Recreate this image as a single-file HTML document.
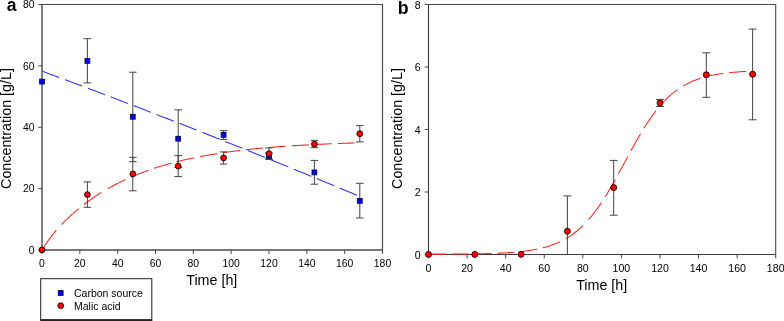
<!DOCTYPE html>
<html lang="en"><head><meta charset="utf-8"><title>Figure</title>
<style>html,body{margin:0;padding:0;background:#fff}svg{display:block;will-change:transform}</style></head>
<body>
<svg width="784" height="321" viewBox="0 0 784 321" font-family="'Liberation Sans', Arial, sans-serif" fill="#000">
<rect width="784" height="321" fill="#fff"/>
<path d="M42.00 4.50 V250.00 H382.50" fill="none" stroke="#787878" stroke-width="1.9"/>
<path d="M38.40 4.50 H382.50 V253.80" fill="none" stroke="#4a4a4a" stroke-width="1.2"/>
<path d="M42.00 250.00 v3.9 M79.83 250.00 v3.9 M117.67 250.00 v3.9 M155.50 250.00 v3.9 M193.33 250.00 v3.9 M231.17 250.00 v3.9 M269.00 250.00 v3.9 M306.83 250.00 v3.9 M344.67 250.00 v3.9 M42.00 250.00 h-3.8 M42.00 188.62 h-3.8 M42.00 127.25 h-3.8 M42.00 65.88 h-3.8 " fill="none" stroke="#444" stroke-width="1"/>
<g font-size="10.4" text-anchor="middle">
<text x="42.0" y="267.0">0</text>
<text x="79.8" y="267.0">20</text>
<text x="117.7" y="267.0">40</text>
<text x="155.5" y="267.0">60</text>
<text x="193.3" y="267.0">80</text>
<text x="231.2" y="267.0">100</text>
<text x="269.0" y="267.0">120</text>
<text x="306.8" y="267.0">140</text>
<text x="344.7" y="267.0">160</text>
<text x="382.5" y="267.0">180</text>
</g>
<g font-size="10.4" text-anchor="end">
<text x="34.6" y="253.7">0</text>
<text x="34.6" y="192.3">20</text>
<text x="34.6" y="131.0">40</text>
<text x="34.6" y="69.6">60</text>
<text x="34.6" y="8.2">80</text>
</g>
<text font-size="14.3" text-anchor="middle" x="211.8" y="285.0">Time [h]</text>
<text font-size="14.3" text-anchor="middle" transform="translate(10.6 128.5) rotate(-90)">Concentration [g/L]</text>
<path d="M428.50 4.50 V254.50 H775.70" fill="none" stroke="#3a3a3a" stroke-width="1.1"/>
<path d="M424.90 4.50 H775.70 V258.30" fill="none" stroke="#4a4a4a" stroke-width="1.1"/>
<path d="M428.50 254.50 v3.9 M467.08 254.50 v3.9 M505.66 254.50 v3.9 M544.23 254.50 v3.9 M582.81 254.50 v3.9 M621.39 254.50 v3.9 M659.97 254.50 v3.9 M698.54 254.50 v3.9 M737.12 254.50 v3.9 M428.50 254.50 h-3.8 M428.50 192.00 h-3.8 M428.50 129.50 h-3.8 M428.50 67.00 h-3.8 " fill="none" stroke="#444" stroke-width="1"/>
<g font-size="10.6" text-anchor="middle">
<text x="428.5" y="271.7">0</text>
<text x="467.1" y="271.7">20</text>
<text x="505.7" y="271.7">40</text>
<text x="544.2" y="271.7">60</text>
<text x="582.8" y="271.7">80</text>
<text x="621.4" y="271.7">100</text>
<text x="660.0" y="271.7">120</text>
<text x="698.5" y="271.7">140</text>
<text x="737.1" y="271.7">160</text>
<text x="775.7" y="271.7">180</text>
</g>
<g font-size="10.6" text-anchor="end">
<text x="420.6" y="258.9">0</text>
<text x="420.6" y="196.4">2</text>
<text x="420.6" y="133.9">4</text>
<text x="420.6" y="71.4">6</text>
<text x="420.6" y="8.9">8</text>
</g>
<text font-size="14.3" text-anchor="middle" x="601.7" y="289.8">Time [h]</text>
<text font-size="14.3" text-anchor="middle" transform="translate(401.8 128.5) rotate(-90)">Concentration [g/L]</text>
<path d="M42.0 71.1 L42.6 71.3 L43.3 71.6 L43.9 71.8 L44.5 72.0 L45.2 72.3 L45.8 72.5 L46.5 72.7 L47.1 73.0 L47.7 73.2 L48.4 73.5 L49.0 73.7 L49.6 73.9 L50.3 74.2 L50.9 74.4 L51.5 74.6 L52.2 74.9 L52.8 75.1 L53.4 75.3 L54.1 75.6 L54.7 75.8 L55.4 76.0 L56.0 76.3 L56.6 76.5 L57.3 76.8 L57.9 77.0 L58.5 77.2 L59.2 77.5 L59.2 77.5 M65.0 79.6 L65.6 79.9 L66.2 80.1 L66.9 80.3 L67.5 80.6 L68.1 80.8 L68.8 81.1 L69.4 81.3 L70.1 81.5 L70.7 81.8 L71.3 82.0 L72.0 82.2 L72.6 82.5 L73.2 82.7 L73.9 83.0 L74.5 83.2 L75.1 83.4 L75.8 83.7 L76.4 83.9 L77.0 84.1 L77.7 84.4 L78.3 84.6 L79.0 84.9 L79.6 85.1 L80.2 85.3 L80.9 85.6 L81.5 85.8 L82.1 86.1 M87.9 88.2 L88.5 88.4 L89.1 88.7 L89.8 88.9 L90.4 89.2 L91.0 89.4 L91.7 89.6 L92.3 89.9 L92.9 90.1 L93.6 90.4 L94.2 90.6 L94.8 90.8 L95.5 91.1 L96.1 91.3 L96.8 91.6 L97.4 91.8 L98.0 92.0 L98.7 92.3 L99.3 92.5 L99.9 92.8 L100.6 93.0 L101.2 93.3 L101.8 93.5 L102.5 93.7 L103.1 94.0 L103.7 94.2 L104.4 94.5 L105.0 94.7 M110.7 96.9 L111.4 97.1 L112.0 97.4 L112.6 97.6 L113.3 97.8 L113.9 98.1 L114.6 98.3 L115.2 98.6 L115.8 98.8 L116.5 99.0 L117.1 99.3 L117.7 99.5 L118.4 99.8 L119.0 100.0 L119.6 100.3 L120.3 100.5 L120.9 100.7 L121.5 101.0 L122.2 101.2 L122.8 101.5 L123.5 101.7 L124.1 102.0 L124.7 102.2 L125.4 102.4 L126.0 102.7 L126.6 102.9 L127.3 103.2 L127.9 103.4 M133.6 105.6 L134.3 105.9 L134.9 106.1 L135.5 106.3 L136.2 106.6 L136.8 106.8 L137.4 107.1 L138.1 107.3 L138.7 107.6 L139.4 107.8 L140.0 108.1 L140.6 108.3 L141.3 108.5 L141.9 108.8 L142.5 109.0 L143.2 109.3 L143.8 109.5 L144.4 109.8 L145.1 110.0 L145.7 110.3 L146.3 110.5 L147.0 110.8 L147.6 111.0 L148.3 111.2 L148.9 111.5 L149.5 111.7 L150.2 112.0 L150.8 112.2 L150.9 112.3 M156.5 114.4 L157.2 114.7 L157.8 114.9 L158.4 115.2 L159.1 115.4 L159.7 115.7 L160.3 115.9 L161.0 116.2 L161.6 116.4 L162.2 116.7 L162.9 116.9 L163.5 117.2 L164.1 117.4 L164.8 117.6 L165.4 117.9 L166.1 118.1 L166.7 118.4 L167.3 118.6 L168.0 118.9 L168.6 119.1 L169.2 119.4 L169.9 119.6 L170.5 119.9 L171.1 120.1 L171.8 120.4 L172.4 120.6 L173.0 120.9 L173.7 121.1 L173.8 121.1 M179.4 123.3 L180.0 123.6 L180.7 123.8 L181.3 124.1 L181.9 124.3 L182.6 124.6 L183.2 124.8 L183.9 125.1 L184.5 125.3 L185.1 125.6 L185.8 125.8 L186.4 126.1 L187.0 126.3 L187.7 126.6 L188.3 126.8 L188.9 127.1 L189.6 127.3 L190.2 127.6 L190.8 127.8 L191.5 128.1 L192.1 128.3 L192.8 128.6 L193.4 128.8 L194.0 129.1 L194.7 129.3 L195.3 129.6 L195.9 129.8 L196.6 130.1 L196.6 130.1 M202.4 132.4 L203.0 132.6 L203.6 132.9 L204.3 133.1 L204.9 133.4 L205.5 133.6 L206.2 133.9 L206.8 134.1 L207.5 134.4 L208.1 134.6 L208.7 134.9 L209.4 135.1 L210.0 135.4 L210.6 135.6 L211.3 135.9 L211.9 136.1 L212.5 136.4 L213.2 136.6 L213.8 136.9 L214.4 137.1 L215.1 137.4 L215.7 137.7 L216.4 137.9 L217.0 138.2 L217.6 138.4 L218.3 138.7 L218.9 138.9 L219.5 139.2 M225.3 141.4 L225.9 141.7 L226.5 141.9 L227.2 142.2 L227.8 142.5 L228.4 142.7 L229.1 143.0 L229.7 143.2 L230.3 143.5 L231.0 143.7 L231.6 144.0 L232.3 144.2 L232.9 144.5 L233.5 144.7 L234.2 145.0 L234.8 145.2 L235.4 145.5 L236.1 145.8 L236.7 146.0 L237.3 146.3 L238.0 146.5 L238.6 146.8 L239.2 147.0 L239.9 147.3 L240.5 147.5 L241.2 147.8 L241.8 148.0 L242.4 148.3 M248.1 150.6 L248.8 150.9 L249.4 151.1 L250.1 151.4 L250.7 151.6 L251.3 151.9 L252.0 152.1 L252.6 152.4 L253.2 152.6 L253.9 152.9 L254.5 153.2 L255.1 153.4 L255.8 153.7 L256.4 153.9 L257.0 154.2 L257.7 154.4 L258.3 154.7 L259.0 154.9 L259.6 155.2 L260.2 155.5 L260.9 155.7 L261.5 156.0 L262.1 156.2 L262.8 156.5 L263.4 156.7 L264.0 157.0 L264.7 157.3 L265.3 157.5 M271.0 159.8 L271.7 160.1 L272.3 160.4 L272.9 160.6 L273.6 160.9 L274.2 161.1 L274.8 161.4 L275.5 161.6 L276.1 161.9 L276.8 162.2 L277.4 162.4 L278.0 162.7 L278.7 162.9 L279.3 163.2 L279.9 163.4 L280.6 163.7 L281.2 164.0 L281.8 164.2 L282.5 164.5 L283.1 164.7 L283.7 165.0 L284.4 165.3 L285.0 165.5 L285.7 165.8 L286.3 166.0 L286.9 166.3 L287.6 166.6 L288.2 166.8 L288.3 166.8 M293.9 169.2 L294.6 169.4 L295.2 169.7 L295.8 169.9 L296.5 170.2 L297.1 170.5 L297.7 170.7 L298.4 171.0 L299.0 171.2 L299.6 171.5 L300.3 171.8 L300.9 172.0 L301.5 172.3 L302.2 172.5 L302.8 172.8 L303.5 173.1 L304.1 173.3 L304.7 173.6 L305.4 173.8 L306.0 174.1 L306.6 174.4 L307.3 174.6 L307.9 174.9 L308.5 175.2 L309.2 175.4 L309.8 175.7 L310.4 175.9 L311.1 176.2 L311.2 176.2 M316.8 178.6 L317.4 178.8 L318.1 179.1 L318.7 179.3 L319.3 179.6 L320.0 179.9 L320.6 180.1 L321.3 180.4 L321.9 180.7 L322.5 180.9 L323.2 181.2 L323.8 181.4 L324.4 181.7 L325.1 182.0 L325.7 182.2 L326.3 182.5 L327.0 182.8 L327.6 183.0 L328.3 183.3 L328.9 183.5 L329.5 183.8 L330.2 184.1 L330.8 184.3 L331.4 184.6 L332.1 184.9 L332.7 185.1 L333.3 185.4 L334.0 185.7 L334.1 185.7 M339.8 188.1 L340.4 188.3 L341.0 188.6 L341.7 188.9 L342.3 189.1 L343.0 189.4 L343.6 189.7 L344.2 189.9 L344.9 190.2 L345.5 190.5 L346.1 190.7 L346.8 191.0 L347.4 191.2 L348.0 191.5 L348.7 191.8 L349.3 192.0 L349.9 192.3 L350.6 192.6 L351.2 192.8 L351.9 193.1 L352.5 193.4 L353.1 193.6 L353.8 193.9 L354.4 194.2 L355.0 194.4 L355.7 194.7 L356.3 195.0 L356.9 195.2" fill="none" stroke="#2a2aff" stroke-width="1.05"/>
<path d="M42.0 250.0 L42.6 249.0 L43.3 247.9 L43.9 246.9 L44.5 245.9 L45.2 245.0 L45.8 244.0 L46.5 243.1 L47.1 242.2 L47.7 241.3 L48.4 240.4 L49.0 239.5 L49.6 238.6 L50.3 237.8 L50.9 237.0 L51.5 236.1 L52.2 235.3 L52.8 234.5 L53.4 233.7 L54.1 233.0 L54.7 232.2 L55.4 231.4 L56.0 230.7 L56.2 230.4 M61.5 224.5 L62.2 223.9 L62.8 223.2 L63.5 222.5 L64.1 221.9 L64.7 221.3 L65.4 220.6 L66.0 220.0 L66.6 219.4 L67.3 218.8 L67.9 218.2 L68.5 217.6 L69.2 217.0 L69.8 216.4 L70.5 215.8 L71.1 215.2 L71.7 214.6 L72.4 214.1 L73.0 213.5 L73.6 212.9 L74.3 212.4 L74.9 211.8 L75.5 211.3 L76.2 210.7 L76.8 210.2 L77.4 209.7 L78.1 209.2 L78.6 208.7 M84.0 204.5 L84.6 204.0 L85.2 203.5 L85.9 203.0 L86.5 202.6 L87.1 202.1 L87.8 201.6 L88.4 201.2 L89.0 200.7 L89.7 200.3 L90.3 199.8 L91.0 199.4 L91.6 198.9 L92.2 198.5 L92.9 198.0 L93.5 197.6 L94.1 197.2 L94.8 196.7 L95.4 196.3 L96.0 195.9 L96.7 195.5 L97.3 195.1 L97.9 194.7 L98.6 194.2 L99.2 193.8 L99.9 193.4 L100.5 193.0 L101.1 192.6 L101.4 192.5 M107.8 188.7 L108.4 188.3 L109.1 187.9 L109.7 187.6 L110.3 187.2 L111.0 186.9 L111.6 186.5 L112.3 186.2 L112.9 185.8 L113.5 185.5 L114.2 185.2 L114.8 184.8 L115.4 184.5 L116.1 184.2 L116.7 183.8 L117.3 183.5 L118.0 183.2 L118.6 182.9 L119.2 182.6 L119.9 182.2 L120.5 181.9 L121.2 181.6 L121.8 181.3 L122.4 181.0 L123.1 180.7 L123.7 180.4 L124.3 180.1 L125.0 179.8 L125.4 179.6 M131.0 177.1 L131.6 176.8 L132.3 176.5 L132.9 176.3 L133.5 176.0 L134.2 175.7 L134.8 175.4 L135.5 175.2 L136.1 174.9 L136.7 174.7 L137.4 174.4 L138.0 174.2 L138.6 173.9 L139.3 173.6 L139.9 173.4 L140.5 173.2 L141.2 172.9 L141.8 172.7 L142.4 172.4 L143.1 172.2 L143.7 171.9 L144.4 171.7 L145.0 171.5 L145.6 171.2 L146.3 171.0 L146.9 170.8 L147.5 170.5 L148.2 170.3 L148.6 170.2 M154.0 168.3 L154.6 168.1 L155.2 167.9 L155.9 167.7 L156.5 167.5 L157.2 167.3 L157.8 167.1 L158.4 166.9 L159.1 166.7 L159.7 166.5 L160.3 166.3 L161.0 166.1 L161.6 165.9 L162.2 165.7 L162.9 165.5 L163.5 165.3 L164.1 165.2 L164.8 165.0 L165.4 164.8 L166.1 164.6 L166.7 164.4 L167.3 164.2 L168.0 164.1 L168.6 163.9 L169.2 163.7 L169.9 163.5 L170.5 163.4 L171.1 163.2 L171.3 163.1 M176.2 161.9 L176.9 161.7 L177.5 161.5 L178.1 161.4 L178.8 161.2 L179.4 161.1 L180.0 160.9 L180.7 160.8 L181.3 160.6 L181.9 160.4 L182.6 160.3 L183.2 160.1 L183.9 160.0 L184.5 159.9 L185.1 159.7 L185.8 159.6 L186.4 159.4 L187.0 159.3 L187.7 159.1 L188.3 159.0 L188.9 158.9 L189.6 158.7 L190.2 158.6 L190.8 158.4 L191.5 158.3 L192.1 158.2 L192.8 158.0 L193.4 157.9 L194.0 157.8 L194.3 157.7 M200.1 156.6 L200.8 156.4 L201.4 156.3 L202.1 156.2 L202.7 156.1 L203.3 156.0 L204.0 155.8 L204.6 155.7 L205.2 155.6 L205.9 155.5 L206.5 155.4 L207.1 155.3 L207.8 155.2 L208.4 155.0 L209.0 154.9 L209.7 154.8 L210.3 154.7 L211.0 154.6 L211.6 154.5 L212.2 154.4 L212.9 154.3 L213.5 154.2 L214.1 154.1 L214.8 154.0 L215.4 153.9 L216.0 153.8 L216.7 153.7 L217.3 153.6 L217.5 153.5 M222.7 152.7 L223.4 152.7 L224.0 152.6 L224.6 152.5 L225.3 152.4 L225.9 152.3 L226.5 152.2 L227.2 152.1 L227.8 152.0 L228.4 151.9 L229.1 151.8 L229.7 151.8 L230.3 151.7 L231.0 151.6 L231.6 151.5 L232.3 151.4 L232.9 151.3 L233.5 151.3 L234.2 151.2 L234.8 151.1 L235.4 151.0 L236.1 150.9 L236.7 150.9 L237.3 150.8 L238.0 150.7 L238.6 150.6 L239.2 150.5 L239.9 150.5 L240.3 150.4 M245.8 149.8 L246.4 149.7 L247.0 149.6 L247.7 149.6 L248.3 149.5 L248.9 149.4 L249.6 149.4 L250.2 149.3 L250.8 149.2 L251.5 149.2 L252.1 149.1 L252.8 149.0 L253.4 149.0 L254.0 148.9 L254.7 148.8 L255.3 148.8 L255.9 148.7 L256.6 148.6 L257.2 148.6 L257.8 148.5 L258.5 148.5 L259.1 148.4 L259.7 148.3 L260.4 148.3 L261.0 148.2 L261.7 148.2 L262.3 148.1 L262.8 148.1 M268.3 147.6 L269.0 147.5 L269.6 147.5 L270.2 147.4 L270.9 147.4 L271.5 147.3 L272.1 147.2 L272.8 147.2 L273.4 147.1 L274.1 147.1 L274.7 147.0 L275.3 147.0 L276.0 146.9 L276.6 146.9 L277.2 146.8 L277.9 146.8 L278.5 146.7 L279.1 146.7 L279.8 146.6 L280.4 146.6 L281.0 146.6 L281.7 146.5 L282.3 146.5 L283.0 146.4 L283.6 146.4 L284.2 146.3 L284.9 146.3 L285.5 146.2 L285.6 146.2 M291.8 145.8 L292.4 145.8 L293.0 145.7 L293.7 145.7 L294.3 145.6 L295.0 145.6 L295.6 145.6 L296.2 145.5 L296.9 145.5 L297.5 145.5 L298.1 145.4 L298.8 145.4 L299.4 145.3 L300.0 145.3 L300.7 145.3 L301.3 145.2 L301.9 145.2 L302.6 145.2 L303.2 145.1 L303.9 145.1 L304.5 145.0 L305.1 145.0 L305.8 145.0 L306.4 144.9 L307.0 144.9 L307.7 144.9 L308.3 144.8 L308.9 144.8 M314.5 144.5 L315.1 144.5 L315.8 144.5 L316.4 144.4 L317.0 144.4 L317.7 144.4 L318.3 144.3 L319.0 144.3 L319.6 144.3 L320.2 144.2 L320.9 144.2 L321.5 144.2 L322.1 144.2 L322.8 144.1 L323.4 144.1 L324.0 144.1 L324.7 144.0 L325.3 144.0 L325.9 144.0 L326.6 144.0 L327.2 143.9 L327.9 143.9 L328.5 143.9 L329.1 143.8 L329.8 143.8 L330.4 143.8 L331.0 143.8 L331.7 143.7 M338.0 143.5 L338.7 143.5 L339.3 143.4 L339.9 143.4 L340.6 143.4 L341.2 143.4 L341.8 143.4 L342.5 143.3 L343.1 143.3 L343.7 143.3 L344.4 143.3 L345.0 143.2 L345.7 143.2 L346.3 143.2 L346.9 143.2 L347.6 143.2 L348.2 143.1 L348.8 143.1 L349.5 143.1 L350.1 143.1 L350.7 143.1 L351.4 143.0 L352.0 143.0 L352.6 143.0 L353.3 143.0 L353.9 142.9 L354.6 142.9" fill="none" stroke="#ff2020" stroke-width="1.05"/>
<path d="M428.5 254.1 L429.1 254.1 L429.8 254.1 L430.4 254.1 L431.1 254.1 L431.7 254.1 L432.4 254.1 L433.0 254.1 L433.7 254.1 L434.3 254.1 L435.0 254.1 L435.6 254.1 L436.3 254.1 L436.9 254.1 L437.6 254.1 L438.2 254.1 L438.9 254.1 L439.5 254.1 L440.2 254.1 L440.8 254.1 L441.5 254.1 L442.1 254.1 L442.8 254.1 L443.4 254.1 L444.1 254.1 L444.7 254.1 L445.4 254.1 L445.8 254.1 M451.4 254.0 L452.1 254.0 L452.7 254.0 L453.4 254.0 L454.0 254.0 L454.7 254.0 L455.3 254.0 L456.0 254.0 L456.6 254.0 L457.3 254.0 L457.9 254.0 L458.6 254.0 L459.2 254.0 L459.9 254.0 L460.5 254.0 L461.2 254.0 L461.8 254.0 L462.5 254.0 L463.1 254.0 L463.7 254.0 L464.4 254.0 L465.0 254.0 L465.7 254.0 L466.3 253.9 L467.0 253.9 L467.6 253.9 L468.3 253.9 L468.6 253.9 M474.4 253.8 L475.0 253.8 L475.7 253.8 L476.3 253.8 L477.0 253.8 L477.6 253.8 L478.3 253.8 L478.9 253.8 L479.6 253.8 L480.2 253.7 L480.8 253.7 L481.5 253.7 L482.1 253.7 L482.8 253.7 L483.4 253.7 L484.1 253.7 L484.7 253.7 L485.4 253.6 L486.0 253.6 L486.7 253.6 L487.3 253.6 L488.0 253.6 L488.6 253.6 L489.3 253.5 L489.9 253.5 L490.6 253.5 L491.2 253.5 L491.5 253.5 M497.2 253.3 L497.9 253.2 L498.5 253.2 L499.2 253.2 L499.8 253.1 L500.5 253.1 L501.1 253.1 L501.8 253.0 L502.4 253.0 L503.1 253.0 L503.7 252.9 L504.3 252.9 L505.0 252.9 L505.6 252.8 L506.3 252.8 L506.9 252.8 L507.6 252.7 L508.2 252.7 L508.9 252.6 L509.5 252.6 L510.2 252.5 L510.8 252.5 L511.5 252.5 L512.1 252.4 L512.8 252.4 L513.4 252.3 L514.1 252.3 L514.5 252.2 M520.1 251.7 L520.8 251.6 L521.4 251.5 L522.1 251.5 L522.7 251.4 L523.4 251.3 L524.0 251.2 L524.7 251.2 L525.3 251.1 L526.0 251.0 L526.6 250.9 L527.3 250.8 L527.9 250.7 L528.6 250.6 L529.2 250.5 L529.9 250.4 L530.5 250.3 L531.2 250.2 L531.8 250.1 L532.5 250.0 L533.1 249.9 L533.8 249.8 L534.4 249.7 L535.1 249.5 L535.7 249.4 L536.4 249.3 L537.0 249.2 L537.3 249.1 M543.0 247.8 L543.6 247.6 L544.3 247.5 L544.9 247.3 L545.6 247.1 L546.2 246.9 L546.9 246.7 L547.5 246.5 L548.2 246.3 L548.8 246.1 L549.5 245.9 L550.1 245.7 L550.8 245.5 L551.4 245.3 L552.1 245.0 L552.7 244.8 L553.4 244.6 L554.0 244.3 L554.7 244.1 L555.3 243.8 L556.0 243.5 L556.6 243.3 L557.3 243.0 L557.9 242.7 L558.6 242.4 L559.2 242.1 L559.9 241.8 L560.3 241.6 M565.9 238.6 L566.6 238.3 L567.2 237.9 L567.9 237.5 L568.5 237.1 L569.2 236.7 L569.8 236.2 L570.5 235.8 L571.1 235.4 L571.8 234.9 L572.4 234.5 L573.1 234.0 L573.7 233.5 L574.4 233.0 L575.0 232.5 L575.7 232.0 L576.3 231.5 L577.0 231.0 L577.6 230.4 L578.3 229.9 L578.9 229.3 L579.5 228.7 L580.2 228.2 L580.8 227.6 L581.5 227.0 L582.1 226.3 L582.8 225.7 L583.1 225.4 M588.5 219.6 L589.2 218.9 L589.8 218.1 L590.5 217.4 L591.1 216.6 L591.8 215.8 L592.4 215.0 L593.1 214.2 L593.7 213.4 L594.4 212.5 L595.0 211.7 L595.7 210.8 L596.3 209.9 L597.0 209.0 L597.6 208.1 L598.3 207.2 L598.9 206.3 L599.6 205.4 L600.2 204.4 L600.9 203.5 L601.5 202.5 M605.2 196.7 L605.9 195.7 L606.5 194.6 L607.2 193.6 L607.8 192.5 L608.5 191.4 L609.1 190.3 L609.8 189.2 L610.4 188.1 L611.1 187.0 L611.7 185.9 L612.4 184.8 L613.0 183.6 L613.7 182.5 L614.3 181.3 L615.0 180.2 L615.3 179.6 M618.4 173.9 L619.1 172.7 L619.7 171.5 L620.4 170.3 L621.0 169.1 L621.7 167.9 L622.3 166.7 L623.0 165.5 L623.6 164.3 L624.3 163.1 L624.9 161.9 L625.6 160.7 L626.2 159.5 L626.9 158.3 L627.5 157.1 L627.8 156.6 M630.8 150.9 L631.5 149.8 L632.1 148.6 L632.8 147.4 L633.4 146.2 L634.1 145.1 L634.7 143.9 L635.4 142.8 L636.0 141.6 L636.7 140.5 L637.3 139.3 L638.0 138.2 L638.6 137.1 L639.3 136.0 L639.9 134.9 L640.6 133.8 M644.0 128.1 L644.7 127.0 L645.3 126.0 L646.0 125.0 L646.6 124.0 L647.3 123.0 L647.9 122.0 L648.6 121.0 L649.2 120.1 L649.9 119.1 L650.5 118.2 L651.2 117.3 L651.8 116.4 L652.5 115.5 L653.1 114.6 L653.8 113.7 L654.4 112.8 L655.1 112.0 L655.7 111.1 L656.0 110.8 M660.6 105.2 L661.2 104.5 L661.9 103.7 L662.5 103.0 L663.2 102.3 L663.8 101.6 L664.5 101.0 L665.1 100.3 L665.8 99.6 L666.4 99.0 L667.1 98.4 L667.7 97.7 L668.4 97.1 L669.0 96.5 L669.7 95.9 L670.3 95.4 L671.0 94.8 L671.6 94.2 L672.2 93.7 L672.9 93.2 L673.5 92.6 L674.2 92.1 L674.8 91.6 L675.5 91.1 L676.1 90.6 L676.8 90.2 L677.4 89.7 M683.1 86.0 L683.8 85.7 L684.4 85.3 L685.1 84.9 L685.7 84.6 L686.3 84.2 L687.0 83.9 L687.6 83.5 L688.3 83.2 L688.9 82.9 L689.6 82.6 L690.2 82.3 L690.9 82.0 L691.5 81.7 L692.2 81.4 L692.8 81.1 L693.5 80.9 L694.1 80.6 L694.8 80.4 L695.4 80.1 L696.1 79.9 L696.7 79.6 L697.4 79.4 L698.0 79.1 L698.7 78.9 L699.3 78.7 L700.0 78.5 L700.4 78.4 M706.0 76.7 L706.7 76.5 L707.3 76.4 L708.0 76.2 L708.6 76.1 L709.3 75.9 L709.9 75.8 L710.6 75.6 L711.2 75.5 L711.9 75.3 L712.5 75.2 L713.2 75.1 L713.8 75.0 L714.5 74.8 L715.1 74.7 L715.8 74.6 L716.4 74.5 L717.1 74.4 L717.7 74.3 L718.4 74.1 L719.0 74.0 L719.7 73.9 L720.3 73.8 L721.0 73.7 L721.6 73.7 L722.2 73.6 L722.9 73.5 L723.2 73.4 M729.0 72.7 L729.6 72.7 L730.3 72.6 L730.9 72.5 L731.6 72.5 L732.2 72.4 L732.9 72.3 L733.5 72.3 L734.2 72.2 L734.8 72.2 L735.5 72.1 L736.1 72.1 L736.8 72.0 L737.4 72.0 L738.0 71.9 L738.7 71.9 L739.3 71.8 L740.0 71.8 L740.6 71.7 L741.3 71.7 L741.9 71.6 L742.6 71.6 L743.2 71.5 L743.9 71.5 L744.5 71.5 L745.2 71.4 L745.8 71.4 L746.2 71.4 M751.8 71.1 L752.5 71.1 L752.6 71.1" fill="none" stroke="#ff2020" stroke-width="1.05"/>
<path d="M87.4 38.7 V82.9 M83.6 38.7 h7.6 M83.6 82.9 h7.6 M132.8 72.2 V161.7 M129.0 72.2 h7.6 M129.0 161.7 h7.6 M178.2 109.9 V167.5 M174.4 109.9 h7.6 M174.4 167.5 h7.6 M223.6 130.7 V139.4 M219.8 130.7 h7.6 M219.8 139.4 h7.6 M269.0 153.0 V159.3 M265.2 153.0 h7.6 M265.2 159.3 h7.6 M314.4 160.4 V184.2 M310.6 160.4 h7.6 M310.6 184.2 h7.6 M359.8 183.3 V218.0 M356.0 183.3 h7.6 M356.0 218.0 h7.6 M87.4 181.9 V207.3 M83.6 181.9 h7.6 M83.6 207.3 h7.6 M132.8 157.3 V190.8 M129.0 157.3 h7.6 M129.0 190.8 h7.6 M178.2 155.6 V176.6 M174.4 155.6 h7.6 M174.4 176.6 h7.6 M223.6 151.9 V164.1 M219.8 151.9 h7.6 M219.8 164.1 h7.6 M269.0 147.9 V159.3 M265.2 147.9 h7.6 M265.2 159.3 h7.6 M314.4 140.4 V147.7 M310.6 140.4 h7.6 M310.6 147.7 h7.6 M359.8 125.6 V141.9 M356.0 125.6 h7.6 M356.0 141.9 h7.6 M567.4 195.9 V254.5 M563.5 195.9 h7.8 M613.7 160.4 V215.2 M609.8 160.4 h7.8 M609.8 215.2 h7.8 M660.0 99.4 V106.5 M656.1 99.4 h7.8 M656.1 106.5 h7.8 M706.3 52.8 V97.3 M702.4 52.8 h7.8 M702.4 97.3 h7.8 M752.6 29.1 V119.8 M748.7 29.1 h7.8 M748.7 119.8 h7.8 " fill="none" stroke="#444" stroke-width="1"/>
<g fill="#0000ff" stroke="#0a0a3c" stroke-width="0.9">
<rect x="39.6" y="79.2" width="4.8" height="4.8"/>
<rect x="85.0" y="58.5" width="4.8" height="4.8"/>
<rect x="130.4" y="114.4" width="4.8" height="4.8"/>
<rect x="175.8" y="136.3" width="4.8" height="4.8"/>
<rect x="221.2" y="132.5" width="4.8" height="4.8"/>
<rect x="266.6" y="153.7" width="4.8" height="4.8"/>
<rect x="312.0" y="170.0" width="4.8" height="4.8"/>
<rect x="357.4" y="198.5" width="4.8" height="4.8"/>
<rect x="58.2" y="290.5" width="5" height="5"/>
</g>
<g fill="#ff0000" stroke="#1a0000" stroke-width="0.9">
<circle cx="42.0" cy="249.9" r="2.9"/>
<circle cx="87.4" cy="194.6" r="2.9"/>
<circle cx="132.8" cy="173.9" r="2.9"/>
<circle cx="178.2" cy="166.1" r="2.9"/>
<circle cx="223.6" cy="157.9" r="2.9"/>
<circle cx="269.0" cy="153.6" r="2.9"/>
<circle cx="314.4" cy="144.1" r="2.9"/>
<circle cx="359.8" cy="133.7" r="2.9"/>
<circle cx="428.5" cy="254.4" r="3"/>
<circle cx="474.8" cy="254.4" r="3"/>
<circle cx="521.1" cy="254.3" r="3"/>
<circle cx="567.4" cy="231.3" r="3"/>
<circle cx="613.7" cy="187.6" r="3"/>
<circle cx="660.0" cy="102.9" r="3"/>
<circle cx="706.3" cy="74.8" r="3"/>
<circle cx="752.6" cy="74.2" r="3"/>
<circle cx="60.7" cy="305.7" r="2.9"/>
</g>
<rect x="40.7" y="278.7" width="111.1" height="41.0" fill="#fff" stroke="#222" stroke-width="1"/>
<path d="M40.2 320.2 H152.3" stroke="#222" stroke-width="1.6"/>
<rect x="58.3" y="290.6" width="4.8" height="4.8" fill="#0000ff" stroke="#0a0a3c" stroke-width="0.9"/>
<circle cx="60.7" cy="305.7" r="2.9" fill="#ff0000" stroke="#1a0000" stroke-width="0.9"/>
<text font-size="10.5" x="74.0" y="297.1">Carbon source</text>
<text font-size="10.5" x="74.0" y="309.7">Malic acid</text>
<text font-size="17.5" font-weight="bold" x="6.8" y="11.0">a</text>
<text font-size="17.7" font-weight="bold" x="397.8" y="14.3">b</text>
</svg>
</body></html>
